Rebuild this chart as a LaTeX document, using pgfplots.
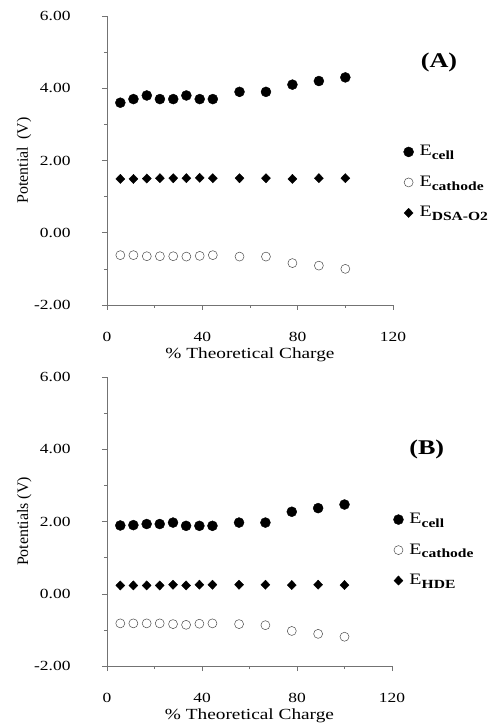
\documentclass[border=0pt]{standalone}
\usepackage{pgfplots}
\pgfplotsset{compat=1.18}
\usepackage{fontspec}
\setmainfont{Liberation Serif}[FakeStretch=1.25]
\newfontfamily\ylfont{Liberation Serif}
\newcommand{\sub}[1]{\raisebox{-3.8bp}{\fontsize{12.5}{15}\selectfont\bfseries #1}}
\pgfplotsset{
  myaxis/.style={
    scale only axis,
    width=286bp, height=289bp,
    anchor=south west,
    xmin=0, xmax=120, ymin=-2, ymax=6,
    axis x line=bottom, axis y line=left,
    axis line style={-, draw=black!55, line width=0.5bp},
    every tick/.style={draw=black!55, line width=0.5bp},
    tick align=outside,
    major tick length=5bp, minor tick length=3bp,
    xtick={0,40,80,120}, minor xtick={20,60,100},
    xticklabels={0,40,80,120},
    ytick={-2,0,2,4,6}, minor ytick={-1,1,3,5},
    yticklabels={-2.00,0.00,2.00,4.00,6.00},
    ticklabel style={font=\fontsize{14}{16}\selectfont},
    yticklabel style={anchor=east, xshift=-28bp},
    xticklabel style={anchor=north, yshift=-19bp},
    xlabel style={font=\fontsize{15.5}{18}\selectfont, at={(axis description cs:0.5,0)}, anchor=center, yshift=-50bp},
    ylabel style={font=\ylfont\fontsize{16}{18}\selectfont, at={(axis description cs:-0.29,0.5)}, anchor=center},
    legend cell align=left,
    legend style={draw=none, fill=none, font=\fontsize{16}{18}\selectfont,
      at={(axis description cs:1.026,0.558)}, anchor=north west,
      row sep=18.5bp,
      nodes={inner sep=0pt, text height=10bp, text depth=2bp},
      /tikz/every odd column/.append style={column sep=6bp}},
    clip=false,
  },
  cellmark/.style={only marks, mark=*, mark size=5bp, mark options={fill=black, draw=black}},
  cathmark/.style={only marks, mark=o, mark size=4.5bp, mark options={draw=black!70, line width=0.5bp}},
  diamark/.style={only marks, mark=diamond*, mark size=4.6bp, mark options={fill=black, draw=black, xscale=1.3}},
}
\begin{document}
\begin{tikzpicture}
\useasboundingbox (0,0) rectangle (491bp,727bp);
\begin{axis}[myaxis, at={(107bp,422bp)},
  xlabel={\% Theoretical Charge}, ylabel={Potential\hspace{0.45em}(V)}]
\addplot[cellmark] coordinates {(5.6,3.6)(11.1,3.7)(16.7,3.8)(22.2,3.7)(27.8,3.7)(33.3,3.8)(38.9,3.7)(44.4,3.7)(55.6,3.9)(66.7,3.9)(77.8,4.1)(88.9,4.2)(100,4.3)};
\addlegendentry{E\sub{cell}}
\addplot[cathmark] coordinates {(5.6,-0.62)(11.1,-0.62)(16.7,-0.65)(22.2,-0.65)(27.8,-0.65)(33.3,-0.66)(38.9,-0.64)(44.4,-0.62)(55.6,-0.66)(66.7,-0.66)(77.8,-0.84)(88.9,-0.91)(100,-1.0)};
\addlegendentry{E\sub{cathode}}
\addplot[diamark] coordinates {(5.6,1.49)(11.1,1.49)(16.7,1.50)(22.2,1.51)(27.8,1.51)(33.3,1.51)(38.9,1.52)(44.4,1.51)(55.6,1.51)(66.7,1.51)(77.8,1.49)(88.9,1.51)(100,1.51)};
\addlegendentry{E\sub{DSA-O2}}
\node[font=\fontsize{21}{24}\selectfont\bfseries] at (axis description cs:1.161,0.84) {(A)};
\end{axis}
\begin{axis}[myaxis, at={(107bp,61bp)}, width=285bp,
  xlabel={\% Theoretical Charge}, ylabel={Potentials (V)},
  legend style={at={(axis description cs:0.994,0.535)}}]
\addplot[cellmark] coordinates {(5.6,1.89)(11.1,1.9)(16.7,1.93)(22.2,1.93)(27.8,1.97)(33.3,1.88)(38.9,1.88)(44.4,1.88)(55.6,1.97)(66.7,1.97)(77.8,2.27)(88.9,2.37)(100,2.47)};
\addlegendentry{E\sub{cell}}
\addplot[cathmark] coordinates {(5.6,-0.82)(11.1,-0.82)(16.7,-0.82)(22.2,-0.82)(27.8,-0.84)(33.3,-0.86)(38.9,-0.83)(44.4,-0.82)(55.6,-0.84)(66.7,-0.87)(77.8,-1.03)(88.9,-1.11)(100,-1.19)};
\addlegendentry{E\sub{cathode}}
\addplot[diamark] coordinates {(5.6,0.23)(11.1,0.23)(16.7,0.23)(22.2,0.23)(27.8,0.25)(33.3,0.23)(38.9,0.25)(44.4,0.25)(55.6,0.25)(66.7,0.25)(77.8,0.24)(88.9,0.25)(100,0.24)};
\addlegendentry{E\sub{HDE}}
\node[font=\fontsize{21}{24}\selectfont\bfseries] at (axis description cs:1.122,0.75) {(B)};
\end{axis}
\end{tikzpicture}
\end{document}
